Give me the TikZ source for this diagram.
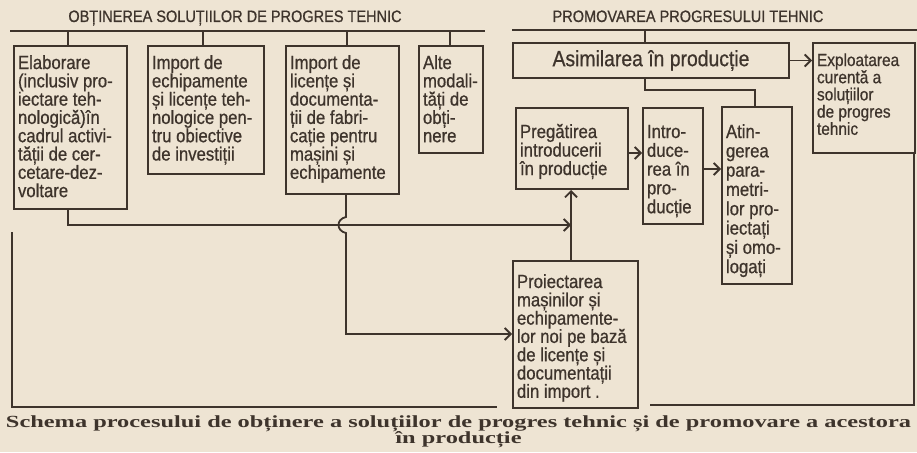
\documentclass[tikz,border=0pt]{standalone}
\usepackage{fontspec}
\usepackage{graphicx}
\setmainfont[FakeStretch=0.88,FakeBold=0.7]{Liberation Sans}
\newfontfamily\capfont{Liberation Serif}
\usetikzlibrary{arrows.meta,calc}
\definecolor{paper}{RGB}{238,228,211}
\definecolor{ink}{RGB}{62,52,44}
\tikzset{
  box/.style={draw=ink, line width=2pt, inner xsep=4pt, inner ysep=0pt, text=ink, anchor=north west},
  conn/.style={draw=ink, line width=1.8pt},
  arr/.style={conn, -{Straight Barb[length=6pt,width=12pt]}},
  hdr/.style={text=ink, anchor=base, inner sep=0pt, font=\fontsize{16.5}{16}\selectfont},
}
\newcommand\bx[9]{\node[box,minimum width=#4pt,minimum height=#5pt] (#1) at (#2,#3) {\parbox[c][#5pt][t]{\dimexpr#4pt-8pt\relax}{\raggedright\fontsize{#8}{#7}\selectfont\rule{0pt}{#6pt}#9}};}
\begin{document}
\begin{tikzpicture}[x=1pt,y=-1pt]
\fill[paper] (0,0) rectangle (917,452);
\useasboundingbox (0,0) rectangle (917,452);

% headers
\node[hdr] (hL) at (235,22) {OBȚINEREA SOLUȚIILOR DE PROGRES TEHNIC};
\node[hdr] (hR) at (688,22) {PROMOVAREA PROGRESULUI TEHNIC};
\coordinate (hl1) at (10,31); \coordinate (hl2) at (485,31);
\coordinate (hr1) at (512,30); \coordinate (hr2) at (917,30);
\draw[conn] (hl1) -- (hl2);
\draw[conn] (hr1) -- (hr2);

% left boxes
\bx{b1}{13}{45}{113}{163}{23}{18.3}{19}{Elaborare\\(inclusiv pro-\\iectare teh-\\nologică)în\\cadrul activi-\\tății de cer-\\cetare-dez-\\voltare}
\bx{b2}{147}{45}{116}{128}{23}{18.3}{19}{Import de\\echipamente\\și licențe teh-\\nologice pen-\\tru obiective\\de investiții}
\bx{b3}{285}{45}{113}{148}{23}{18.3}{19}{Import de\\licențe și\\documenta-\\ții de fabri-\\cație pentru\\mașini și\\echipamente}
\bx{b4}{418}{45}{64}{107}{23}{18.3}{19}{Alte\\modali-\\tăți de\\obți-\\nere}

% right boxes
\node[box,minimum width=276pt,minimum height=35pt,anchor=north west,font=\fontsize{22}{22}\selectfont] (asim) at (512,42) {Asimilarea în producție};
\bx{expl}{812}{42}{102}{110}{23}{17.2}{17.5}{Exploatarea\\curentă a\\soluțiilor\\de progres\\tehnic}
\bx{preg}{515}{107}{112}{81}{30}{18.5}{19}{Pregătirea\\introducerii\\în producție}
\bx{intro}{642}{107}{60}{116}{30}{18.8}{19}{Intro-\\duce-\\rea în\\pro-\\ducție}
\bx{atin}{721}{106}{70}{177}{31}{19.3}{19}{Atin-\\gerea\\para-\\metri-\\lor pro-\\iectați\\și omo-\\logați}
\bx{proi}{512}{260}{125}{147}{27}{18.3}{19}{Proiectarea\\mașinilor și\\echipamente-\\lor noi pe bază\\de licențe și\\documentații\\din import .}

% taps from left header line
\coordinate (t1) at (68,31); \coordinate (t2) at (203,31);
\coordinate (t3) at (347,31); \coordinate (t4) at (450,31);
\draw[conn] (t1) -- (t1 |- b1.north);
\draw[conn] (t2) -- (t2 |- b2.north);
\draw[conn] (t3) -- (t3 |- b3.north);
\draw[conn] (t4) -- (t4 |- b4.north);

% right header tap and links
\coordinate (ta) at (645,30);
\draw[conn] (ta) -- (ta |- asim.north);
\coordinate (ja) at (645,90); \coordinate (jb) at (755,90);
\draw[conn] (asim.south -| ja) -- (ja) -- (jb) -- (jb |- atin.north);
\draw[arr] (asim.east) -- (asim.east -| expl.west);
\coordinate (p1) at (0,153); \coordinate (p2) at (0,169);
\draw[arr] (preg.east |- p1) -- (intro.west |- p1);
\draw[arr] (intro.east |- p2) -- (atin.west |- p2);

% from Proiectarea up to Pregatirea
\coordinate (kx) at (571,225);
\draw[arr] (proi.north -| kx) -- (preg.south -| kx);
% from Elaborare
\coordinate (c1) at (68,225);
\draw[arr] (b1.south -| c1) -- (c1) -- (kx);
% from Import de licente (with hop)
\coordinate (h1) at (346,217); \coordinate (h2) at (346,233);
\coordinate (d3) at (346,334);
\draw[arr] (b3.south -| h1) -- (h1) .. controls (336,219) and (336,231) .. (h2) -- (d3) -- (d3 -| proi.west);

% frame
\coordinate (fl) at (12,232); \coordinate (fbl) at (12,407); \coordinate (fbm) at (497,407);
\draw[conn] (fl) -- (fbl) -- (fbm);
\coordinate (fbr1) at (650,405); \coordinate (fbr) at (914,405);
\draw[conn] (fbr1) -- (fbr) -- (fbr |- expl.south);

% caption
\node[anchor=base, inner sep=0pt, text=ink] (cap) at (458.5,427) {\resizebox{905pt}{\height}{\capfont\bfseries\fontsize{17}{16}\selectfont\begin{tabular}[t]{@{}c@{}}Schema procesului de obținere a soluțiilor de progres tehnic și de promovare a acestora\\în producție\end{tabular}}};
\end{tikzpicture}
\end{document}
